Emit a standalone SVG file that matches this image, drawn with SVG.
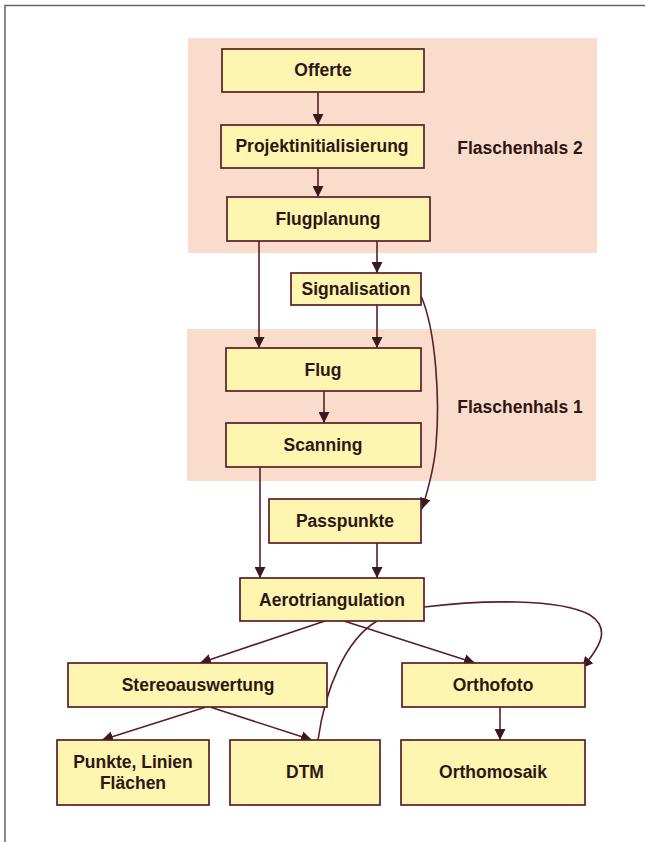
<svg xmlns="http://www.w3.org/2000/svg" width="654" height="842" viewBox="0 0 654 842">
<defs>
<style>
.box{fill:#fdf5b0;stroke:#5a1e28;stroke-width:1.7}
.band{fill:#f9dccb}
.lbl{font-family:"Liberation Sans",Arial,sans-serif;font-weight:bold;font-size:17.5px;fill:#2e1614;text-anchor:middle}
.side{font-family:"Liberation Sans",Arial,sans-serif;font-weight:bold;font-size:17.5px;fill:#2e1614;text-anchor:middle}
.c{fill:none;stroke:#5a1e28;stroke-width:1.6}
</style>
<marker id="ah" viewBox="0 0 10 10" refX="10" refY="5" markerWidth="11" markerHeight="11" markerUnits="userSpaceOnUse" orient="auto">
<path d="M0,0 L10,5 L0,10 z" fill="#3a1a1e"/>
</marker>
</defs>
<rect width="654" height="842" fill="#ffffff"/>
<path d="M5,842 L5,5.5 L645,5.5" fill="none" stroke="#666" stroke-width="1.5"/>
<g id="bands">
<rect class="band" x="188" y="38" width="409" height="215"/>
<rect class="band" x="187" y="329" width="409" height="152"/>
<text class="side" x="520" y="154">Flaschenhals 2</text>
<text class="side" x="520" y="413">Flaschenhals 1</text>
</g>
<g id="connectors">
<path class="c" d="M318,92 L318,125" marker-end="url(#ah)"/>
<path class="c" d="M318,168 L318,197" marker-end="url(#ah)"/>
<path class="c" d="M259,241 L259,348" marker-end="url(#ah)"/>
<path class="c" d="M377,241 L377,273" marker-end="url(#ah)"/>
<path class="c" d="M377,305 L377,348" marker-end="url(#ah)"/>
<path class="c" d="M324,391 L324,423" marker-end="url(#ah)"/>
<path class="c" d="M421,296 C436,330 440,400 436,445 C434,470 428,490 422,509" marker-end="url(#ah)"/>
<path class="c" d="M260,467 L260,578" marker-end="url(#ah)"/>
<path class="c" d="M377,543 L377,578" marker-end="url(#ah)"/>
<path class="c" d="M325,621 L200,663" marker-end="url(#ah)"/>
<path class="c" d="M344,621 L475,663" marker-end="url(#ah)"/>
<path class="c" d="M377,621 C345,640 325,690 318,740"/>
<path class="c" d="M424,607 C480,600 560,598 590,615 C610,628 602,645 582,668" marker-end="url(#ah)"/>
<path class="c" d="M206,707 L102,740" marker-end="url(#ah)"/>
<path class="c" d="M210,707 L312,740" marker-end="url(#ah)"/>
<path class="c" d="M500,707 L500,740" marker-end="url(#ah)"/>
</g>
<g id="offerte"><rect class="box" x="222" y="49" width="202" height="43"/><text class="lbl" x="323" y="76">Offerte</text></g>
<g id="projektinitialisierung"><rect class="box" x="221" y="125" width="203" height="43"/><text class="lbl" x="322" y="152">Projektinitialisierung</text></g>
<g id="flugplanung"><rect class="box" x="227" y="197" width="203" height="44"/><text class="lbl" x="328" y="225">Flugplanung</text></g>
<g id="signalisation"><rect class="box" x="291" y="273" width="130" height="32"/><text class="lbl" x="356" y="295">Signalisation</text></g>
<g id="flug"><rect class="box" x="226" y="348" width="195" height="43"/><text class="lbl" x="323" y="376">Flug</text></g>
<g id="scanning"><rect class="box" x="226" y="423" width="195" height="44"/><text class="lbl" x="323" y="451">Scanning</text></g>
<g id="passpunkte"><rect class="box" x="269" y="499" width="152" height="44"/><text class="lbl" x="345" y="527">Passpunkte</text></g>
<g id="aerotriangulation"><rect class="box" x="240" y="578" width="184" height="43"/><text class="lbl" x="332" y="606">Aerotriangulation</text></g>
<g id="stereoauswertung"><rect class="box" x="68" y="663" width="259" height="44"/><text class="lbl" x="198" y="691">Stereoauswertung</text></g>
<g id="orthofoto"><rect class="box" x="402" y="663" width="183" height="44"/><text class="lbl" x="493" y="691">Orthofoto</text></g>
<g id="punkte"><rect class="box" x="57" y="740" width="152" height="65"/><text class="lbl" x="133" y="768">Punkte, Linien</text><text class="lbl" x="133" y="789">Flächen</text></g>
<g id="dtm"><rect class="box" x="230" y="740" width="150" height="65"/><text class="lbl" x="305" y="778">DTM</text></g>
<g id="orthomosaik"><rect class="box" x="401" y="740" width="184" height="65"/><text class="lbl" x="493" y="778">Orthomosaik</text></g>
</svg>
